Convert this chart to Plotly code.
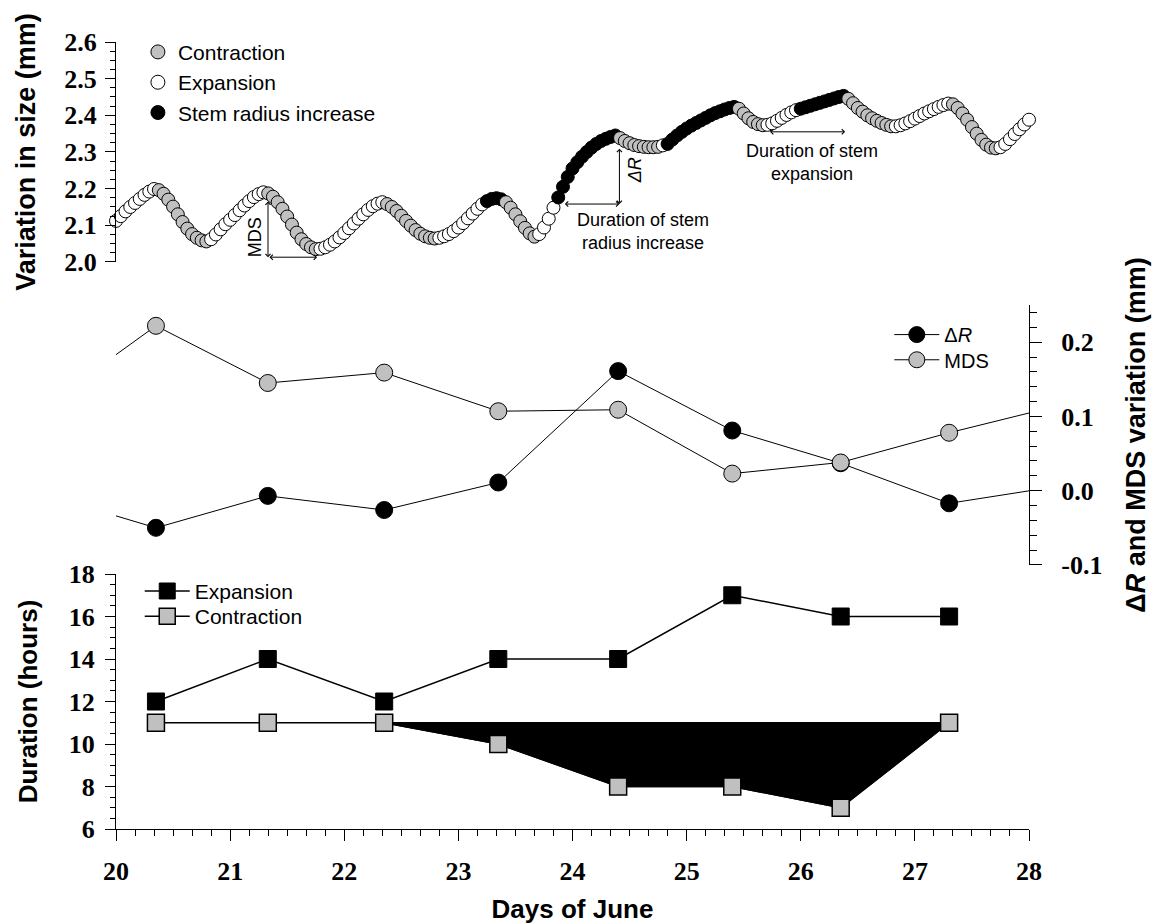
import plotly.graph_objects as go

# ---------------- DATA ----------------
# Top panel: hourly stem size (mm), hours 0..23 of each day of June
size_jun20 = [2.112, 2.125, 2.138, 2.150, 2.161, 2.172, 2.183, 2.192, 2.199, 2.196, 2.186, 2.170,
              2.151, 2.130, 2.109, 2.091, 2.076, 2.066, 2.059, 2.056, 2.062, 2.075, 2.089, 2.103]
size_jun21 = [2.115, 2.128, 2.141, 2.154, 2.166, 2.177, 2.185, 2.190, 2.187, 2.178, 2.163, 2.145,
              2.124, 2.102, 2.080, 2.062, 2.049, 2.040, 2.035, 2.036, 2.040, 2.047, 2.056, 2.067]
size_jun22 = [2.079, 2.092, 2.105, 2.118, 2.130, 2.142, 2.152, 2.159, 2.163, 2.158, 2.150, 2.139,
              2.126, 2.112, 2.099, 2.087, 2.077, 2.070, 2.066, 2.064, 2.066, 2.070, 2.076, 2.084]
size_jun23 = [2.094, 2.106, 2.119, 2.132, 2.145, 2.157, 2.166, 2.172, 2.174, 2.171, 2.163, 2.148,
              2.130, 2.111, 2.093, 2.078, 2.069, 2.076, 2.094, 2.118, 2.148, 2.176, 2.205, 2.232]
size_jun24 = [2.255, 2.272, 2.287, 2.300, 2.312, 2.322, 2.330, 2.336, 2.341, 2.345, 2.338, 2.330,
              2.324, 2.319, 2.316, 2.314, 2.313, 2.313, 2.314, 2.318, 2.322, 2.334, 2.345, 2.355]
size_jun25 = [2.364, 2.372, 2.379, 2.386, 2.393, 2.400, 2.406, 2.411, 2.416, 2.420, 2.423, 2.418,
              2.405, 2.392, 2.382, 2.376, 2.373, 2.374, 2.378, 2.385, 2.393, 2.401, 2.408, 2.414]
size_jun26 = [2.418, 2.422, 2.426, 2.430, 2.434, 2.438, 2.442, 2.446, 2.450, 2.453, 2.445, 2.433,
              2.420, 2.410, 2.400, 2.392, 2.385, 2.379, 2.374, 2.370, 2.370, 2.373, 2.378, 2.384]
size_jun27 = [2.391, 2.398, 2.405, 2.411, 2.417, 2.423, 2.428, 2.432, 2.430, 2.420, 2.405, 2.388,
              2.368, 2.350, 2.333, 2.320, 2.312, 2.310, 2.313, 2.322, 2.335, 2.349, 2.362, 2.375]
size_jun28 = [2.388]

# Phase of each hourly reading: C = contraction, E = expansion, R = stem radius increase
phase_jun20 = "EEEEEEEEECCCCCCCCCCCEEEE"
phase_jun21 = "EEEEEEEECCCCCCCCCCCEEEEE"
phase_jun22 = "EEEEEEEEECCCCCCCCCCCEEEE"
phase_jun23 = "EEEEEERRRRCCCCCCCEEEERRR"
phase_jun24 = "RRRRRRRRRRCCCCCCCCCERRRR"
phase_jun25 = "RRRRRRRRRRRCCCCCCEEEEEEE"
phase_jun26 = "RRRRRRRRRRCCCCCCCCCCEEEE"
phase_jun27 = "EEEEEEEECCCCCCCCCCEEEEEE"
phase_jun28 = "E"

days_june = [20, 21, 22, 23, 24, 25, 26, 27, 28]

# Middle and bottom panels: one value per daily cycle
cycle_days = [20.35, 21.33, 22.35, 23.35, 24.4, 25.4, 26.35, 27.3]
delta_r = [-0.050, -0.007, -0.026, 0.011, 0.161, 0.081, 0.037, -0.017]
mds = [0.222, 0.145, 0.159, 0.107, 0.109, 0.023, 0.038, 0.078]
# neighbouring cycles (outside the plotted window, only their connecting lines show)
prev_cycle_day, next_cycle_day = 19.35, 28.3
delta_r_prev, delta_r_next = -0.004, 0.007
mds_prev, mds_next = 0.111, 0.116

expansion_h = [12, 14, 12, 14, 14, 17, 16, 16]
contraction_h = [11, 11, 11, 10, 8, 8, 7, 11]
contraction_ref = 11  # reference contraction duration (hours)

mid_tickvals = [-0.1, 0.0, 0.1, 0.2]
mid_ticktext = ["-0.1", "0.0", "0.1", "0.2"]

# ---------------- FIGURE ----------------
GRAY = "#c0c0c0"
phase_color = {"C": GRAY, "E": "white", "R": "black"}
SANS = "Liberation Sans"
SERIF = "Liberation Serif"

sizes = [size_jun20, size_jun21, size_jun22, size_jun23, size_jun24,
         size_jun25, size_jun26, size_jun27, size_jun28]
phases = [phase_jun20, phase_jun21, phase_jun22, phase_jun23, phase_jun24,
          phase_jun25, phase_jun26, phase_jun27, phase_jun28]

t_x, t_y, t_c = [], [], []
for d, vals, ph in zip(days_june, sizes, phases):
    for h, (v, p) in enumerate(zip(vals, ph)):
        t_x.append(d + h / 24.0)
        t_y.append(v)
        t_c.append(phase_color[p])

fig = go.Figure()

# ---- top panel ----
fig.add_trace(go.Scatter(
    x=t_x, y=t_y, mode="markers", xaxis="x", yaxis="y3", showlegend=False,
    cliponaxis=False, hoverinfo="x+y",
    marker=dict(size=13, color=t_c, line=dict(color="black", width=1))))
for name, key in [("Contraction", "C"), ("Expansion", "E"), ("Stem radius increase", "R")]:
    fig.add_trace(go.Scatter(
        x=[None], y=[None], mode="markers", name=name, xaxis="x", yaxis="y3",
        legend="legend3", legendgroup=name,
        marker=dict(size=14, color=phase_color[key], line=dict(color="black", width=1))))

# ---- middle panel ----
fig.add_trace(go.Scatter(
    x=[prev_cycle_day] + cycle_days + [next_cycle_day],
    y=[delta_r_prev] + delta_r + [delta_r_next],
    mode="lines+markers", name="Δ<i>R</i>", xaxis="x", yaxis="y2", legend="legend2",
    line=dict(color="black", width=1),
    marker=dict(size=17, color="black", line=dict(color="black", width=1))))
fig.add_trace(go.Scatter(
    x=[prev_cycle_day] + cycle_days + [next_cycle_day],
    y=[mds_prev] + mds + [mds_next],
    mode="lines+markers", name="MDS", xaxis="x", yaxis="y2", legend="legend5",
    line=dict(color="black", width=1),
    marker=dict(size=17, color=GRAY, line=dict(color="black", width=1))))

# ---- bottom panel ----
fill_days = cycle_days[2:]
fill_vals = contraction_h[2:]
fig.add_trace(go.Scatter(
    x=fill_days + fill_days[::-1],
    y=fill_vals + [contraction_ref] * len(fill_days),
    mode="lines", fill="toself", fillcolor="black", line=dict(color="black", width=1.5),
    xaxis="x", yaxis="y", showlegend=False, hoverinfo="skip"))
fig.add_trace(go.Scatter(
    x=cycle_days, y=expansion_h, mode="lines+markers", name="Expansion",
    xaxis="x", yaxis="y", legend="legend",
    line=dict(color="black", width=1.5),
    marker=dict(symbol="square", size=17, color="black", line=dict(color="black", width=1))))
fig.add_trace(go.Scatter(
    x=cycle_days, y=contraction_h, mode="lines+markers", name="Contraction",
    xaxis="x", yaxis="y", legend="legend4",
    line=dict(color="black", width=1.5),
    marker=dict(symbol="square", size=17, color=GRAY, line=dict(color="black", width=1.5))))

tickfont = dict(family=SERIF, size=26, color="black", weight="bold")


def tfont(size):
    return dict(family=SANS, size=size, color="black", weight="bold")


axis_common = dict(showline=True, linecolor="black", linewidth=1.3, showgrid=False,
                   zeroline=False, ticks="outside", tickcolor="black", tickwidth=1.3,
                   tickfont=tickfont, automargin=False)


def leg(x, y, size, **kw):
    d = dict(x=x, y=y, xanchor="left", yanchor="top", bgcolor="rgba(0,0,0,0)",
             font=dict(family=SANS, size=size, color="black"), tracegroupgap=0)
    d.update(kw)
    return d


fig.update_layout(
    width=1156, height=924,
    margin=dict(l=116, r=127, t=42, b=95),
    plot_bgcolor="white", paper_bgcolor="white",
    font=dict(family=SANS, color="black"),
    xaxis=dict(domain=[0, 1], range=[20, 28], anchor="y", dtick=1, tick0=20, ticklen=11,
               ticklabelstandoff=8,
               minor=dict(dtick=1 / 6, tick0=20, ticks="outside", ticklen=6,
                          tickwidth=1.3, tickcolor="black", showgrid=False),
               title=dict(text="Days of June", font=tfont(26), standoff=19),
               **axis_common),
    yaxis=dict(domain=[0, 0.324], range=[6, 18], anchor="x", dtick=2, ticklen=10,
               ticklabelstandoff=5,
               minor=dict(dtick=0.5, ticks="outside", ticklen=5, tickwidth=1.3,
                          tickcolor="black", showgrid=False),
               title=dict(text="Duration (hours)", font=tfont(26), standoff=23),
               **axis_common),
    yaxis2=dict(domain=[0.3355, 0.6658], range=[-0.1, 0.25], anchor="x", side="right",
                tickmode="array", tickvals=mid_tickvals, ticktext=mid_ticktext,
                ticklen=12, ticklabelstandoff=14,
                minor=dict(dtick=0.02, tick0=0, ticks="outside", ticklen=7, tickwidth=1.3,
                           tickcolor="black", showgrid=False),
                title=dict(text="Δ<i>R</i> and MDS variation (mm)", font=tfont(27), standoff=24),
                **axis_common),
    yaxis3=dict(domain=[0.7205, 1], range=[2.0, 2.6], anchor="x", side="left", dtick=0.1,
                tick0=2.0, tickformat=".1f", ticklen=10, ticklabelstandoff=3,
                minor=dict(dtick=0.025, tick0=2.0, ticks="outside", ticklen=5, tickwidth=1.3,
                           tickcolor="black", showgrid=False),
                title=dict(text="Variation in size (mm)", font=tfont(27), standoff=20),
                **axis_common),
    legend=leg(0.026, 0.328, 21, itemwidth=45),
    legend4=leg(0.026, 0.296, 21, itemwidth=45),
    legend2=leg(0.847, 0.653, 20, itemwidth=45),
    legend5=leg(0.847, 0.621, 20, itemwidth=45),
    legend3=leg(0.024, 1.013, 21),
)


def dbl_arrow(x0, y0, x1, y1):
    return dict(x=x1, y=y1, ax=x0, ay=y0, xref="x", yref="y3", axref="x", ayref="y3",
                text="", showarrow=True, arrowhead=4, arrowsize=1, arrowwidth=1,
                startarrowhead=4, startarrowsize=1, arrowside="end+start",
                arrowcolor="black", standoff=0, startstandoff=0)


ann_font = dict(family=SANS, size=18, color="black")
annotations = [
    dbl_arrow(21.332, 2.169, 21.332, 2.013),
    dbl_arrow(21.332, 2.013, 21.762, 2.013),
    dict(x=21.22, y=2.068, xref="x", yref="y3", text="MDS", textangle=-90,
         showarrow=False, font=ann_font),
    dict(x=21.57, y=1.937, xref="x", yref="y3", text="Duration<br>of contraction",
         showarrow=False, font=ann_font),
    dbl_arrow(24.411, 2.313, 24.411, 2.158),
    dbl_arrow(23.92, 2.158, 24.411, 2.158),
    dict(x=24.55, y=2.251, xref="x", yref="y3", text="<i>ΔR</i>", textangle=-90,
         showarrow=False, font=ann_font),
    dict(x=24.62, y=2.084, xref="x", yref="y3", text="Duration of stem<br>radius increase",
         showarrow=False, font=ann_font),
    dbl_arrow(25.717, 2.355, 26.389, 2.355),
    dict(x=26.10, y=2.271, xref="x", yref="y3", text="Duration of stem<br>expansion",
         showarrow=False, font=ann_font),
]
fig.update_layout(annotations=annotations)

fig.write_html("out.html",
               config={"displayModeBar": False},
               post_script="document.body.style.margin='0';"
                           "document.body.style.overflow='hidden';")
